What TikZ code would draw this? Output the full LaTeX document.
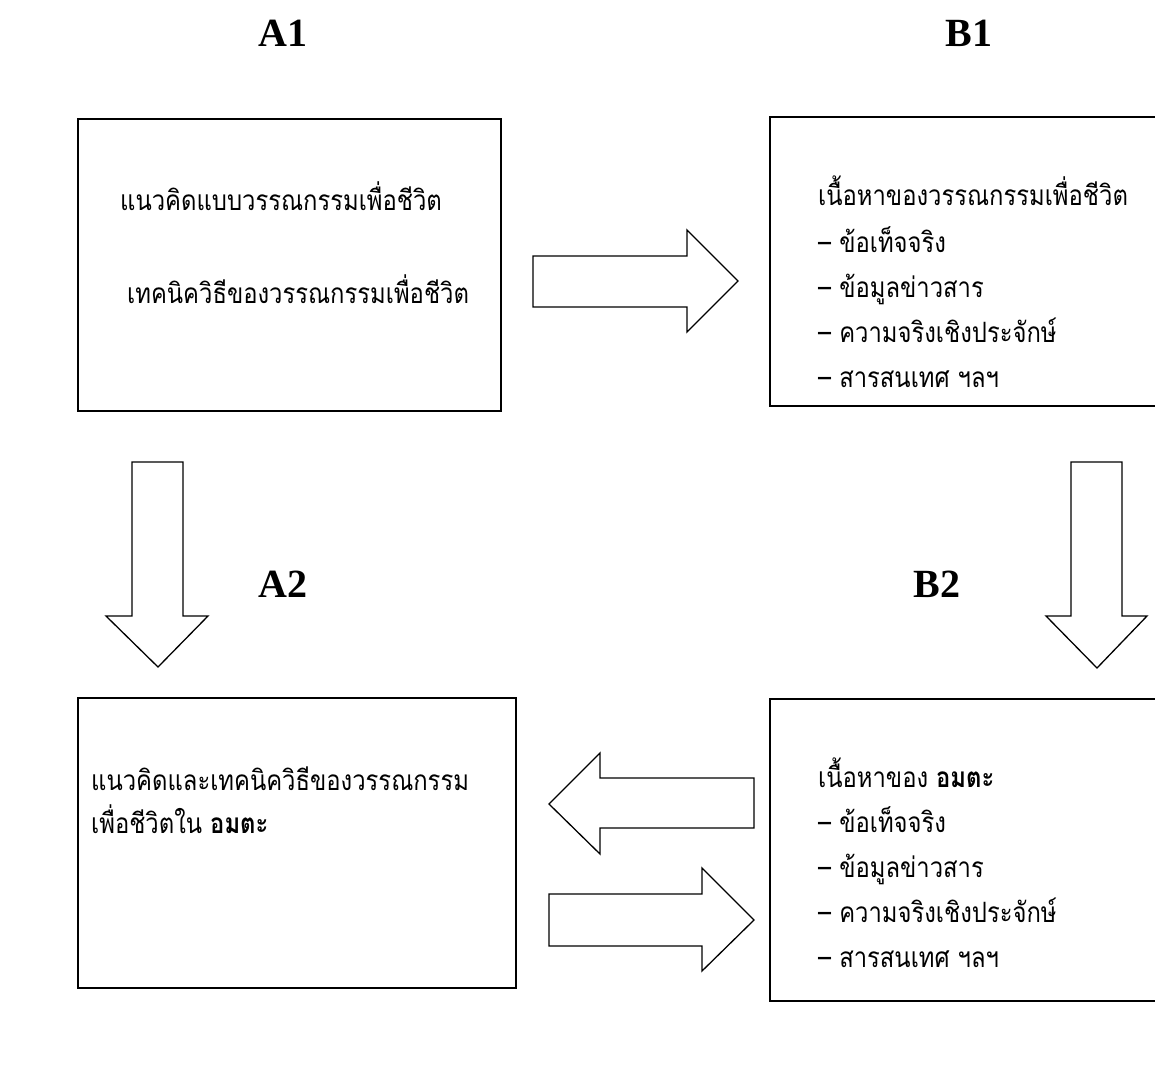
\documentclass[tikz,border=0pt]{standalone}
\usepackage{fontspec}
\setmainfont{Liberation Serif}
\newfontfamily\thaifont[Script=Thai,FakeStretch=0.85]{Loma}
\begin{document}
\begin{tikzpicture}
            [x=1pt,y=-1pt,
             every node/.style={inner sep=0pt,anchor=base west,font=\thaifont\fontsize{28}{28}\selectfont},
             title/.style={anchor=base,font=\bfseries\fontsize{40}{40}\selectfont},
             box/.style={draw,rectangle,line width=2pt,anchor=north west},
             blockarrow/.style={draw,line width=1.3pt,line join=miter}]
            \clip (0,0) rectangle (1155,1088);
            \fill[white] (0,0) rectangle (1155,1088);

            % titles
            \node[title] (tA1) at (283,46) {A1};
            \node[title] (tB1) at (969,46) {B1};
            \node[title] (tA2) at (283,597) {A2};
            \node[title] (tB2) at (937,597) {B2};

            % boxes
            \node[box,minimum width=423pt,minimum height=292pt] (boxA1) at (77,118) {};
            \node[box,minimum width=391pt,minimum height=289pt] (boxB1) at (769,116) {};
            \node[box,minimum width=438pt,minimum height=290pt] (boxA2) at (77,697) {};
            \node[box,minimum width=391pt,minimum height=302pt] (boxB2) at (769,698) {};

            % text of A1
            \node (a1line1) at (120,210) {แนวคิดแบบวรรณกรรมเพื่อชีวิต};
            \node (a1line2) at (127,303) {เทคนิควิธีของวรรณกรรมเพื่อชีวิต};

            % text of B1
            \node (b1head) at (818,205) {เนื้อหาของวรรณกรรมเพื่อชีวิต};
            \node (b1fact) at (818,252) {– ข้อเท็จจริง};
            \node (b1info) at (818,297) {– ข้อมูลข่าวสาร};
            \node (b1true) at (818,342) {– ความจริงเชิงประจักษ์};
            \node (b1news) at (818,387) {– สารสนเทศ ฯลฯ};

            % text of A2
            \node (a2line1) at (91,790) {แนวคิดและเทคนิควิธีของวรรณกรรม};
            \node (a2line2) at (91,833) {เพื่อชีวิตใน \textbf{อมตะ}};

            % text of B2
            \node (b2head) at (818,787) {เนื้อหาของ \textbf{อมตะ}};
            \node (b2fact) at (818,832) {– ข้อเท็จจริง};
            \node (b2info) at (818,877) {– ข้อมูลข่าวสาร};
            \node (b2true) at (818,922) {– ความจริงเชิงประจักษ์};
            \node (b2news) at (818,967) {– สารสนเทศ ฯลฯ};

            % block arrows
            \draw[blockarrow] (533,256) -- (687,256) -- (687,230) -- (738,281)
                -- (687,332) -- (687,307) -- (533,307) -- cycle;
            \draw[blockarrow] (132,462) -- (183,462) -- (183,616) -- (208,616)
                -- (158,667) -- (106,616) -- (132,616) -- cycle;
            \draw[blockarrow] (1071,462) -- (1122,462) -- (1122,616) -- (1147,616)
                -- (1097,668) -- (1046,616) -- (1071,616) -- cycle;
            \draw[blockarrow] (754,778) -- (600,778) -- (600,753) -- (549,804)
                -- (600,854) -- (600,828) -- (754,828) -- cycle;
            \draw[blockarrow] (549,894) -- (702,894) -- (702,868) -- (754,920)
                -- (702,971) -- (702,946) -- (549,946) -- cycle;

        \end{tikzpicture}
\end{document}
